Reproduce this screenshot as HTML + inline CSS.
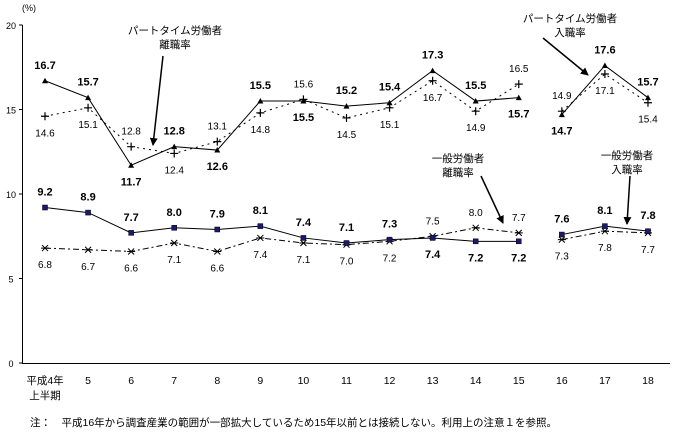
<!DOCTYPE html>
<html><head><meta charset="utf-8">
<style>
body{margin:0;background:#fff;}
svg{display:block;font-family:"Liberation Sans","Noto Sans CJK JP",sans-serif;}
</style></head>
<body>
<svg id="chart" width="675" height="433" viewBox="0 0 675 433" xmlns="http://www.w3.org/2000/svg">
<defs>
<marker id="ah" markerWidth="8" markerHeight="8" refX="7" refY="4" orient="auto" markerUnits="userSpaceOnUse">
<path d="M0,0 L8,4 L0,8 z" fill="#000"/>
</marker>
</defs>
<g id="axes"></g>
<g id="marks"></g>
<g id="labels"></g>
<g font-size="10.5" text-anchor="middle">
<text x="175" y="34">パートタイム労働者</text>
<text x="175" y="48">離職率</text>
<line x1="163" y1="56" x2="153" y2="145" stroke="#000" stroke-width="1.5" marker-end="url(#ah)"/>
<text x="570" y="22">パートタイム労働者</text>
<text x="570" y="36">入職率</text>
<line x1="543" y1="38" x2="588" y2="75" stroke="#000" stroke-width="1.5" marker-end="url(#ah)"/>
<text x="458" y="162">一般労働者</text>
<text x="458" y="176">離職率</text>
<line x1="481" y1="176" x2="503" y2="223" stroke="#000" stroke-width="1.5" marker-end="url(#ah)"/>
<text x="627" y="159">一般労働者</text>
<text x="627" y="173">入職率</text>
<line x1="630" y1="176" x2="627" y2="224" stroke="#000" stroke-width="1.5" marker-end="url(#ah)"/>
</g>
<text x="22" y="11" font-size="9">(%)</text>
<text x="30" y="426" font-size="10.5">注：　平成16年から調査産業の範囲が一部拡大しているため15年以前とは接続しない。利用上の注意１を参照。</text>
</svg>
<script>
const categories = ["平成4年","5","6","7","8","9","10","11","12","13","14","15","16","17","18"];
const ptSeparation = [16.7,15.7,11.7,12.8,12.6,15.5,15.5,15.2,15.4,17.3,15.5,15.7,14.7,17.6,15.7];
const ptAccession  = [14.6,15.1,12.8,12.4,13.1,14.8,15.6,14.5,15.1,16.7,14.9,16.5,14.9,17.1,15.4];
const genSeparation = [9.2,8.9,7.7,8.0,7.9,8.1,7.4,7.1,7.3,7.4,7.2,7.2,7.6,8.1,7.8];
const genAccession  = [6.8,6.7,6.6,7.1,6.6,7.4,7.1,7.0,7.2,7.5,8.0,7.7,7.3,7.8,7.7];
const yTicks = [0,5,10,15,20];
const breakAfter = 11;

const NS="http://www.w3.org/2000/svg";
const x = i => 45 + i*43.07;
const y = v => 363 - v*16.9;
function mk(tag, attrs, parent, txt){
  const e=document.createElementNS(NS,tag);
  for(const k in attrs) e.setAttribute(k,attrs[k]);
  if(txt!==undefined) e.textContent=txt;
  parent.appendChild(e); return e;
}
const axes=document.getElementById('axes'), marks=document.getElementById('marks'), labels=document.getElementById('labels');
let a=mk('line',{x1:22.5,y1:y(20),x2:22.5,y2:363.5,stroke:'#000'},axes);


a=mk('line',{x1:22,y1:363.5,x2:670,y2:363.5,stroke:'#000'},axes);


yTicks.forEach(t=>{
  let l=mk('line',{x1:19,x2:22.5,y1:y(t),y2:y(t),stroke:'#000'},axes);
  
  
  let tx=mk('text',{x:11,y:y(t)+4,'font-size':9,'text-anchor':'middle'},axes,String(t));
  
  
});
categories.forEach((c,i)=>{
  let tx=mk('text',{x:x(i),y:384,'font-size':10.5,'text-anchor':'middle'},axes,c);
  
  
});
let sub=mk('text',{x:x(0),y:399,'font-size':10.5,'text-anchor':'middle'},axes,'上半期');



function series(vals,dash,marker,name){
  [[0,breakAfter],[breakAfter+1,vals.length-1]].forEach(([s,e])=>{
    let pts=[];for(let i=s;i<=e;i++)pts.push(x(i)+','+y(vals[i]));
    const p=mk('polyline',{points:pts.join(' '),fill:'none',stroke:'#000','stroke-width':1,'stroke-dasharray':dash},marks);
    
    
  });
  vals.forEach((v,i)=>{
    const cx=x(i),cy=y(v);let m;
    if(marker==='tri') m=mk('path',{d:`M${cx-3},${cy+2.5}L${cx+3},${cy+2.5}L${cx},${cy-3}z`,fill:'#000'},marks);
    else if(marker==='sq') m=mk('rect',{x:cx-2.5,y:cy-2.5,width:5,height:5,fill:'#1a1a6e',stroke:'#000','stroke-width':0.5},marks);
    else if(marker==='plus') m=mk('path',{d:`M${cx-4},${cy}H${cx+4}M${cx},${cy-4}V${cy+4}`,stroke:'#000','stroke-width':1.2},marks);
    else m=mk('path',{d:`M${cx-3},${cy-3}L${cx+3},${cy+3}M${cx-3},${cy+3}L${cx+3},${cy-3}M${cx-4},${cy}H${cx+4}`,stroke:'#000','stroke-width':1},marks);
    
    
  });
}
series(ptAccession,'2,4','plus','pt-accession');
series(ptSeparation,'','tri','pt-separation');
series(genAccession,'6,3,2,3','ast','gen-accession');
series(genSeparation,'','sq','gen-separation');

function labelPair(A,B,name){
  A.forEach((va,i)=>{
    const vb=B[i];
    const aAbove = va>=vb;
    [[va,true,aAbove],[vb,false,!aAbove]].forEach(([v,bold,above])=>{
      const ty = above ? y(v)-12 : y(v)+20;
      const t=mk('text',{x:x(i),y:ty,'font-size':bold?11:10,'font-weight':bold?'bold':'normal','text-anchor':'middle'},labels,v.toFixed(1));
      
      
    });
  });
}
labelPair(ptSeparation,ptAccession,'pt');
labelPair(genSeparation,genAccession,'gen');
</script>
</body></html>
